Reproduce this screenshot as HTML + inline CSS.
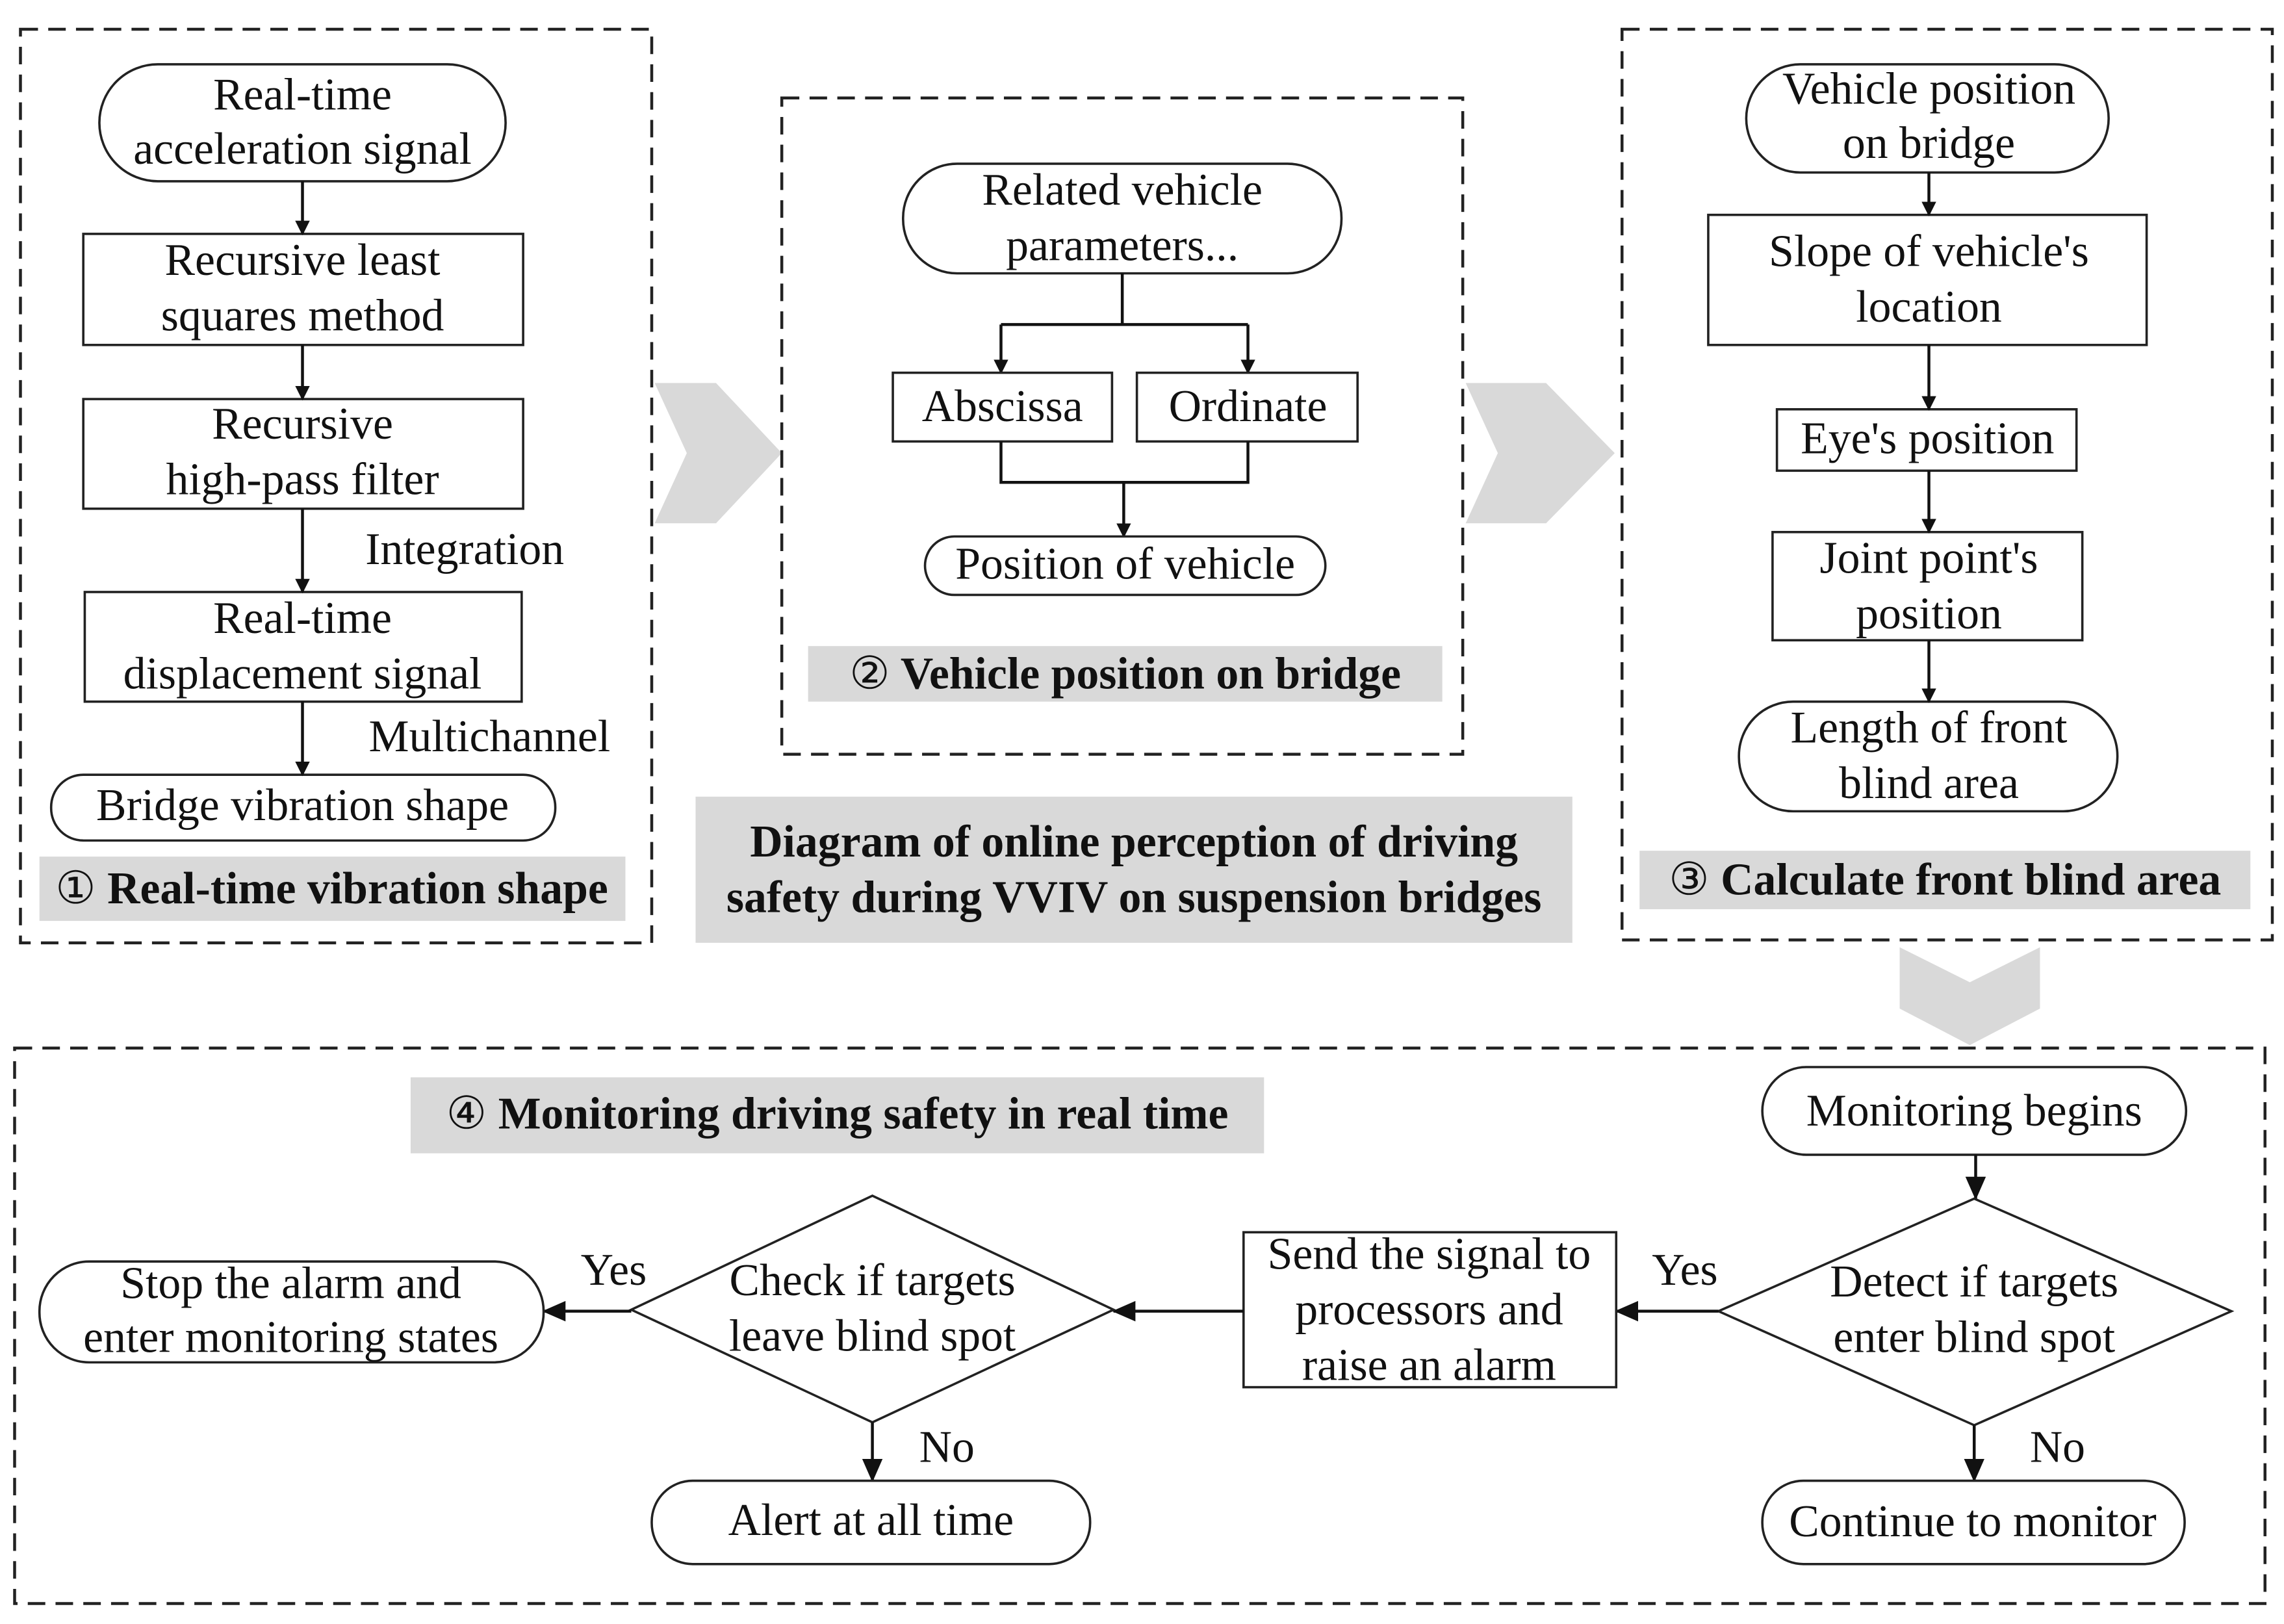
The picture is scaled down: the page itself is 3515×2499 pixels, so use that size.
<!DOCTYPE html>
<html><head><meta charset="utf-8"><style>
html,body{margin:0;padding:0;background:#fff}
svg{display:block}
text{font-family:"Liberation Serif",serif;font-size:31px;fill:#111;text-anchor:middle}
.b{font-weight:bold}
.c{font-weight:normal}
.n{fill:#fff;stroke:#222;stroke-width:1.6}
.d{fill:none;stroke:#222;stroke-width:2;stroke-dasharray:12 7}
.l{stroke:#111;stroke-width:2;fill:none}
.g{fill:#d9d9d9}
</style></head><body>
<svg width="3515" height="2499" viewBox="0 0 1563 1111" preserveAspectRatio="none" xmlns="http://www.w3.org/2000/svg">
<defs><marker id="a" markerWidth="10" markerHeight="10" refX="9" refY="5" orient="auto" markerUnits="userSpaceOnUse"><path d="M0,0 L10,5 L0,10 z" fill="#111"/></marker>
<marker id="m" markerWidth="16" markerHeight="14" refX="15" refY="7" orient="auto" markerUnits="userSpaceOnUse"><path d="M0,0 L16,7 L0,14 z" fill="#111"/></marker></defs>
<!-- Box 1 -->
<rect class="d" x="14" y="20" width="432" height="625"/>
<rect class="n" x="68" y="44" width="278" height="80" rx="40"/>
<text x="207" y="75">Real-time</text><text x="207" y="112">acceleration signal</text>
<rect class="n" x="57" y="160" width="301" height="76"/>
<text x="207" y="188">Recursive least</text><text x="207" y="226">squares method</text>
<rect class="n" x="57" y="273" width="301" height="75"/>
<text x="207" y="300">Recursive</text><text x="207" y="338">high-pass filter</text>
<text x="318" y="386">Integration</text>
<rect class="n" x="58" y="405" width="299" height="75"/>
<text x="207" y="433">Real-time</text><text x="207" y="471">displacement signal</text>
<text x="335" y="514">Multichannel</text>
<rect class="n" x="35" y="530" width="345" height="45" rx="22"/>
<text x="207" y="561">Bridge vibration shape</text>
<rect class="g" x="27" y="586" width="401" height="44"/>
<text class="b" x="227" y="618"><tspan class="c">①</tspan> Real-time vibration shape</text>
<line class="l" x1="207" y1="124" x2="207" y2="160" marker-end="url(#a)"/>
<line class="l" x1="207" y1="236" x2="207" y2="273" marker-end="url(#a)"/>
<line class="l" x1="207" y1="348" x2="207" y2="405" marker-end="url(#a)"/>
<line class="l" x1="207" y1="480" x2="207" y2="530" marker-end="url(#a)"/>
<!-- big arrows -->
<polygon class="g" points="448,262 490,262 535,310 490,358 448,358 470,310"/>
<polygon class="g" points="1003,262 1058,262 1105,310 1058,358 1003,358 1025,310"/>
<polygon class="g" points="1300,648 1348,672 1396,648 1396,690 1348,715 1300,690"/>
<!-- Box 2 -->
<rect class="d" x="535" y="67" width="466" height="449"/>
<rect class="n" x="618" y="112" width="300" height="75" rx="37"/>
<text x="768" y="140">Related vehicle</text><text x="768" y="178">parameters...</text>
<polyline class="l" points="768,187 768,222"/>
<line class="l" x1="685" y1="222" x2="854" y2="222"/>
<line class="l" x1="685" y1="222" x2="685" y2="255" marker-end="url(#a)"/>
<line class="l" x1="854" y1="222" x2="854" y2="255" marker-end="url(#a)"/>
<rect class="n" x="611" y="255" width="150" height="47"/>
<text x="686" y="288">Abscissa</text>
<rect class="n" x="778" y="255" width="151" height="47"/>
<text x="854" y="288">Ordinate</text>
<polyline class="l" points="685,302 685,330 854,330 854,302"/>
<line class="l" x1="769" y1="330" x2="769" y2="367" marker-end="url(#a)"/>
<rect class="n" x="633" y="367" width="274" height="40" rx="20"/>
<text x="770" y="396">Position of vehicle</text>
<rect class="g" x="553" y="442" width="434" height="38"/>
<text class="b" x="770" y="471"><tspan class="c">②</tspan> Vehicle position on bridge</text>
<!-- Title -->
<rect class="g" x="476" y="545" width="600" height="100"/>
<text class="b" x="776" y="586">Diagram of online perception of driving</text>
<text class="b" x="776" y="624">safety during VVIV on suspension bridges</text>
<!-- Box 3 -->
<rect class="d" x="1110" y="20" width="445" height="623"/>
<rect class="n" x="1195" y="44" width="248" height="74" rx="37"/>
<text x="1320" y="71">Vehicle position</text><text x="1320" y="108">on bridge</text>
<rect class="n" x="1169" y="147" width="300" height="89"/>
<text x="1320" y="182">Slope of vehicle's</text><text x="1320" y="220">location</text>
<rect class="n" x="1216" y="280" width="205" height="42"/>
<text x="1319" y="310">Eye's position</text>
<rect class="n" x="1213" y="364" width="212" height="74"/>
<text x="1320" y="392">Joint point's</text><text x="1320" y="430">position</text>
<rect class="n" x="1190" y="480" width="259" height="75" rx="37"/>
<text x="1320" y="508">Length of front</text><text x="1320" y="546">blind area</text>
<rect class="g" x="1122" y="582" width="418" height="40"/>
<text class="b" x="1331" y="612"><tspan class="c">③</tspan> Calculate front blind area</text>
<line class="l" x1="1320" y1="118" x2="1320" y2="147" marker-end="url(#a)"/>
<line class="l" x1="1320" y1="236" x2="1320" y2="280" marker-end="url(#a)"/>
<line class="l" x1="1320" y1="322" x2="1320" y2="364" marker-end="url(#a)"/>
<line class="l" x1="1320" y1="438" x2="1320" y2="480" marker-end="url(#a)"/>
<!-- Box 4 -->
<rect class="d" x="10" y="717" width="1540" height="380"/>
<rect class="g" x="281" y="737" width="584" height="52"/>
<text class="b" x="573" y="772"><tspan class="c">④</tspan>  Monitoring driving safety in real time</text>
<rect class="n" x="1206" y="730" width="290" height="60" rx="30"/>
<text x="1351" y="770">Monitoring begins</text>
<line class="l" x1="1352" y1="790" x2="1352" y2="820" marker-end="url(#m)"/>
<polygon class="n" points="1351,820 1527,897 1351,975 1176,897"/>
<text x="1351" y="887">Detect if targets</text><text x="1351" y="925">enter blind spot</text>
<line class="l" x1="1176" y1="897" x2="1106" y2="897" marker-end="url(#m)"/>
<text x="1153" y="879">Yes</text>
<rect class="n" x="851" y="843" width="255" height="106"/>
<text x="978" y="868">Send the signal to</text><text x="978" y="906">processors and</text><text x="978" y="944">raise an alarm</text>
<line class="l" x1="851" y1="897" x2="762" y2="897" marker-end="url(#m)"/>
<polygon class="n" points="597,818 762,896 597,973 432,896"/>
<text x="597" y="886">Check if targets</text><text x="597" y="924">leave blind spot</text>
<line class="l" x1="432" y1="897" x2="372" y2="897" marker-end="url(#m)"/>
<text x="420" y="879">Yes</text>
<rect class="n" x="27" y="863" width="345" height="69" rx="34"/>
<text x="199" y="888">Stop the alarm and</text><text x="199" y="925">enter monitoring states</text>
<line class="l" x1="597" y1="973" x2="597" y2="1013" marker-end="url(#m)"/>
<text x="648" y="1000">No</text>
<rect class="n" x="446" y="1013" width="300" height="57" rx="28"/>
<text x="596" y="1050">Alert at all time</text>
<line class="l" x1="1351" y1="975" x2="1351" y2="1013" marker-end="url(#m)"/>
<text x="1408" y="1000">No</text>
<rect class="n" x="1206" y="1013" width="289" height="57" rx="28"/>
<text x="1350" y="1051">Continue to monitor</text>
</svg>
</body></html>
